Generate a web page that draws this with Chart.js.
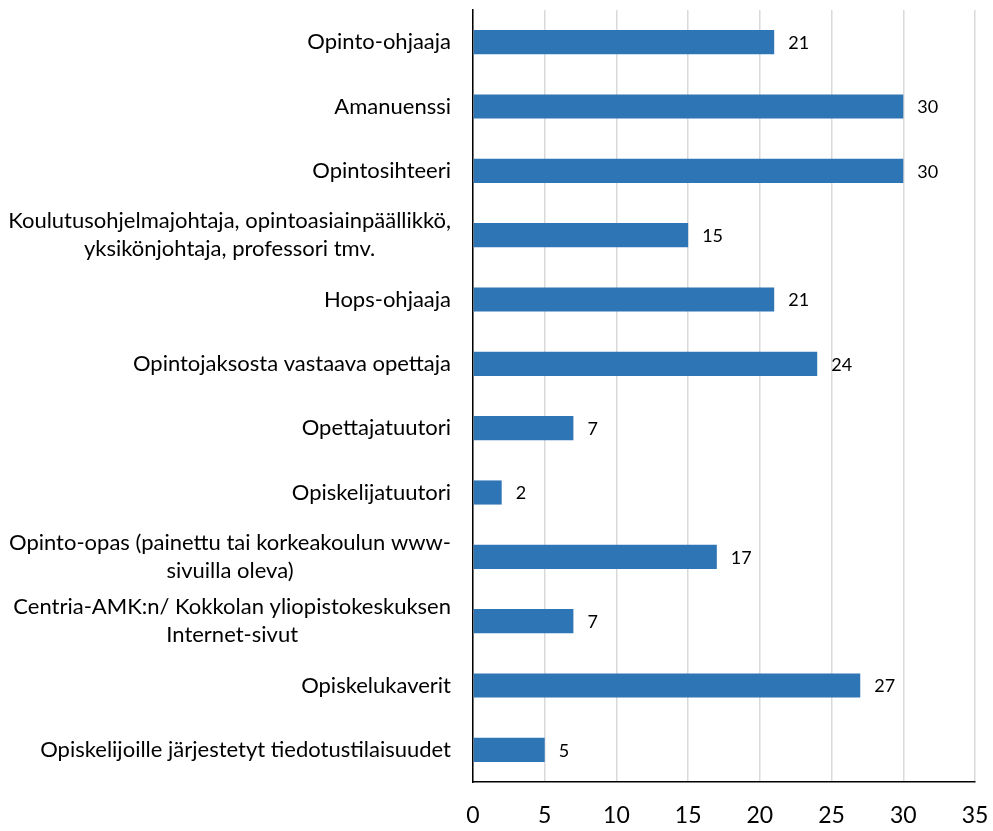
<!DOCTYPE html>
<html>
<head>
<meta charset="utf-8">
<script src="https://cdn.jsdelivr.net/npm/chart.js@4/dist/chart.umd.min.js"></script>
<style>
html,body{margin:0;padding:0;background:#fff;}
#wrap{width:993px;height:831px;}
</style>
</head>
<body>
<div id="wrap"><canvas id="c" width="993" height="831"></canvas></div>
<script>
const categories = [
  ["Opinto-ohjaaja"],
  ["Amanuenssi"],
  ["Opintosihteeri"],
  ["Koulutusohjelmajohtaja, opintoasiainpäällikkö,", "yksikönjohtaja, professori tmv."],
  ["Hops-ohjaaja"],
  ["Opintojaksosta vastaava opettaja"],
  ["Opettajatuutori"],
  ["Opiskelijatuutori"],
  ["Opinto-opas (painettu tai korkeakoulun www-", "sivuilla oleva)"],
  ["Centria-AMK:n/ Kokkolan yliopistokeskuksen", "Internet-sivut"],
  ["Opiskelukaverit"],
  ["Opiskelijoille järjestetyt tiedotustilaisuudet"]
];
const values = [21, 30, 30, 15, 21, 24, 7, 2, 17, 7, 27, 5];
const xTicks = [0, 5, 10, 15, 20, 25, 30, 35];

const FONT = "Lato, 'Open Sans', sans-serif";

const catLabelPlugin = {
  id: 'catLabels',
  afterDraw(chart) {
    const ctx = chart.ctx;
    const ys = chart.scales.y;
    const right = chart.chartArea.left - 22;
    ctx.save();
    ctx.font = "22px " + FONT;
    ctx.fillStyle = "#000";
    ctx.textBaseline = "middle";
    ctx.textAlign = "center";
    const lh = 28;
    categories.forEach((lines, i) => {
      const yc = ys.getPixelForValue(i);
      let maxW = 0;
      lines.forEach(l => { maxW = Math.max(maxW, ctx.measureText(l).width); });
      const cx = right - maxW / 2;
      const y0 = yc - (lines.length - 1) * lh / 2;
      lines.forEach((l, k) => ctx.fillText(l, cx, y0 + k * lh));
    });
    ctx.restore();
  }
};

const valueLabelPlugin = {
  id: 'valueLabels',
  afterDatasetsDraw(chart) {
    const ctx = chart.ctx;
    const meta = chart.getDatasetMeta(0);
    ctx.save();
    ctx.font = "18px " + FONT;
    ctx.fillStyle = "#000";
    ctx.textBaseline = "middle";
    ctx.textAlign = "left";
    meta.data.forEach((bar, i) => {
      ctx.fillText(String(values[i]), bar.x + 14, bar.y + 1);
    });
    ctx.restore();
  }
};

new Chart(document.getElementById('c'), {
  type: 'bar',
  data: {
    labels: categories.map(c => c.join(' ')),
    datasets: [{
      data: values,
      backgroundColor: '#2E75B6',
      borderWidth: 0,
      barPercentage: 0.375,
      categoryPercentage: 1.0
    }]
  },
  options: {
    indexAxis: 'y',
    responsive: false,
    animation: false,
    layout: { padding: { top: 10, right: 0, left: 0, bottom: 0 } },
    plugins: { legend: { display: false }, tooltip: { enabled: false } },
    scales: {
      x: {
        min: 0, max: 35,
        afterBuildTicks(scale) { scale.ticks = xTicks.map(v => ({ value: v })); },
        afterFit(scale) { scale.height = 49; scale.paddingRight = 18; scale.paddingLeft = 0; },
        ticks: { font: { family: FONT, size: 23 }, color: '#000', padding: 20 },
        grid: { color: '#D9D9D9', lineWidth: 1.5, drawTicks: false },
        border: { display: true, color: '#000', width: 1.5 }
      },
      y: {
        afterFit(scale) { scale.width = 473; },
        ticks: { display: false },
        grid: { display: false, drawTicks: false },
        border: { display: true, color: '#000', width: 1.5 }
      }
    }
  },
  plugins: [catLabelPlugin, valueLabelPlugin]
});
</script>
</body>
</html>
